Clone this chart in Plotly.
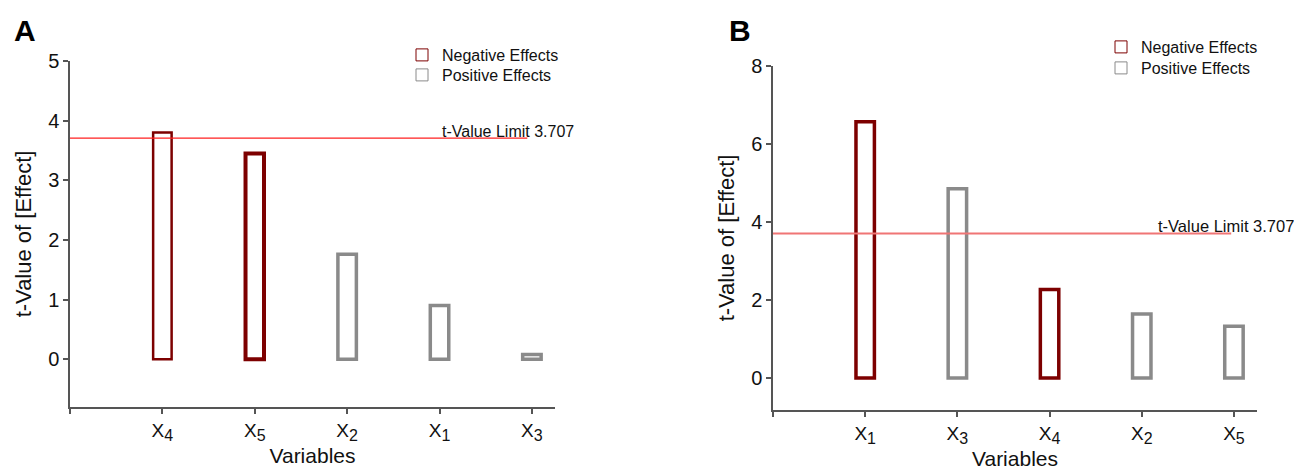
import plotly.graph_objects as go

# ---------------- data ----------------
vars_a = ["X4", "X5", "X2", "X1", "X3"]
tval_a = [3.80, 3.45, 1.76, 0.90, 0.08]
sign_a = ["neg", "neg", "pos", "pos", "pos"]

vars_b = ["X1", "X3", "X4", "X2", "X5"]
tval_b = [6.57, 4.85, 2.27, 1.64, 1.33]
sign_b = ["neg", "pos", "neg", "pos", "pos"]

t_limit = 3.707
yticks_a = [0, 1, 2, 3, 4, 5]
yticks_b = [0, 2, 4, 6, 8]

# ---------------- styles ----------------
NEG = "#7d0000"
POS = "#8a8a8a"
AXC = "#555555"
FONT = "Liberation Sans, Arial, sans-serif"
W, H = 1294, 472


def sub_label(name):
    return f"{name[0]}<sub><span style='font-size:16px'>{name[1:]}</span></sub>"


fig = go.Figure()


def add_panel(names, vals, signs, xa, ya, legends, lws_all):
    pos = list(range(1, len(names) + 1))
    for (key, label, col), lg in zip((("neg", "Negative Effects", NEG), ("pos", "Positive Effects", POS)), legends):
        xs = [p for p, s in zip(pos, signs) if s == key]
        ys = [v for v, s in zip(vals, signs) if s == key]
        lws = [lws_all[i] for i, s in enumerate(signs) if s == key]
        fig.add_trace(go.Bar(
            x=xs, y=ys, name=label, width=0.2,
            marker=dict(color="white", line=dict(color=col, width=lws)),
            xaxis=xa, yaxis=ya, showlegend=False,
        ))
        # legend-only entry with a thin outline, like the reference swatch
        fig.add_trace(go.Bar(
            x=[None], y=[None], name=label,
            marker=dict(color="white", line=dict(color=col, width=1)),
            xaxis=xa, yaxis=ya, legend=lg, showlegend=True,
        ))


add_panel(vars_a, tval_a, sign_a, "x", "y", ("legend", "legend2"), [2.5, 4, 3.5, 3.5, 3.5])
add_panel(vars_b, tval_b, sign_b, "x2", "y2", ("legend3", "legend4"), [3.5, 3.5, 3.5, 3.5, 3.5])


def px_x(p):
    return p / W


def px_y(p):
    return 1 - p / H


common_x = dict(
    range=[0, 5.25], showline=True, linecolor=AXC, linewidth=1.5,
    ticks="outside", ticklen=5, tickcolor=AXC, tickwidth=1.5,
    showgrid=False, zeroline=False, automargin=False,
    tickfont=dict(family=FONT, size=19, color="#111"),
    title=dict(text="Variables", font=dict(family=FONT, size=21, color="#111"), standoff=4),
)
common_y = dict(
    showline=True, linecolor=AXC, linewidth=1.5,
    ticks="outside", ticklen=5, tickcolor=AXC, tickwidth=1.5,
    showgrid=False, zeroline=False, automargin=False,
    tickfont=dict(family=FONT, size=20, color="#111"),
    title=dict(text="t-Value of [Effect]", font=dict(family=FONT, size=22, color="#111"), standoff=10),
)


def leg(xp, yp):
    return dict(x=px_x(xp), y=px_y(yp), xanchor="left", yanchor="middle",
                font=dict(family=FONT, size=16, color="#111"), itemwidth=30,
                bgcolor="rgba(0,0,0,0)", borderwidth=0)


fig.update_layout(
    template="none",
    width=W, height=H,
    margin=dict(l=0, r=0, t=0, b=0, autoexpand=False),
    paper_bgcolor="white", plot_bgcolor="white",
    barmode="overlay",
    font=dict(family=FONT, color="#111"),
    xaxis=dict(common_x, domain=[px_x(70), px_x(555)], anchor="y",
               tickvals=[0, 1, 2, 3, 4, 5], ticktext=[""] + [sub_label(v) for v in vars_a]),
    yaxis=dict(common_y, domain=[px_y(407), px_y(61)], anchor="x",
               range=[-0.80, 5.0], tickvals=yticks_a),
    xaxis2=dict(common_x, domain=[px_x(773), px_x(1257)], anchor="y2",
                tickvals=[0, 1, 2, 3, 4, 5], ticktext=[""] + [sub_label(v) for v in vars_b]),
    yaxis2=dict(common_y, domain=[px_y(410), px_y(66)], anchor="x2",
                range=[-0.82, 8.0], tickvals=yticks_b),
    legend=leg(402, 55),
    legend2=leg(402, 75),
    legend3=leg(1101, 47),
    legend4=leg(1101, 68),
    showlegend=True,
)

# limit lines
fig.add_shape(type="line", xref="x", yref="y", x0=0, x1=4.95, y0=t_limit, y1=t_limit,
              line=dict(color="#ff2020", width=1.3))
fig.add_shape(type="line", xref="x2", yref="y2", x0=0, x1=4.97, y0=t_limit, y1=t_limit,
              line=dict(color="#f07575", width=2))

fig.add_annotation(x=4.0, y=t_limit, xref="x", yref="y", xanchor="left", yanchor="bottom",
                   text="t-Value Limit 3.707", showarrow=False, yshift=-4,
                   font=dict(family=FONT, size=16, color="#111"))
fig.add_annotation(x=4.15, y=t_limit, xref="x2", yref="y2", xanchor="left", yanchor="bottom",
                   text="t-Value Limit 3.707", showarrow=False, yshift=-4,
                   font=dict(family=FONT, size=16.5, color="#111"))

# panel letters
fig.add_annotation(x=px_x(25), y=px_y(30), xref="paper", yref="paper", xanchor="center", yanchor="middle",
                   text="<b>A</b>", showarrow=False, font=dict(family=FONT, size=30, color="black"))
fig.add_annotation(x=px_x(740), y=px_y(30), xref="paper", yref="paper", xanchor="center", yanchor="middle",
                   text="<b>B</b>", showarrow=False, font=dict(family=FONT, size=30, color="black"))

fig.write_html("out.html", config={"displayModeBar": False},
               post_script="document.body.style.margin='0';")
